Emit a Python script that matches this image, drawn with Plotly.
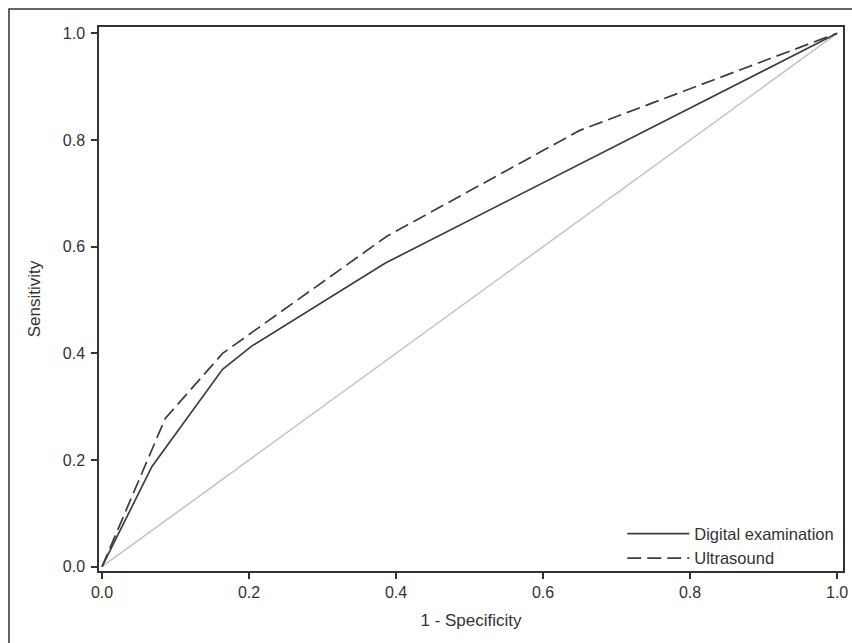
import plotly.graph_objects as go

# ROC data
fpr_digital = [0.0, 0.068, 0.164, 0.204, 0.385, 1.0]
sens_digital = [0.0, 0.188, 0.370, 0.414, 0.569, 1.0]

fpr_ultra = [0.0, 0.086, 0.164, 0.388, 0.650, 1.0]
sens_ultra = [0.0, 0.278, 0.400, 0.620, 0.818, 1.0]

ref_x = [0.0, 1.0]
ref_y = [0.0, 1.0]

tick_vals = [0.0, 0.2, 0.4, 0.6, 0.8, 1.0]
tick_text = ["0.0", "0.2", "0.4", "0.6", "0.8", "1.0"]

FONT = "Liberation Sans, Arial, sans-serif"
LINE = "#3d3d3d"

fig = go.Figure()
fig.add_trace(go.Scatter(x=ref_x, y=ref_y, mode="lines", showlegend=False,
                         line=dict(color="#c4c4c4", width=1.5), hoverinfo="skip"))
fig.add_trace(go.Scatter(x=fpr_digital, y=sens_digital, mode="lines",
                         name="Digital examination",
                         line=dict(color=LINE, width=1.7)))
fig.add_trace(go.Scatter(x=fpr_ultra, y=sens_ultra, mode="lines",
                         name="Ultrasound",
                         line=dict(color=LINE, width=1.7, dash="14px,6px")))

axis_common = dict(
    showgrid=False, zeroline=False, showline=True, mirror=True,
    linecolor="#333333", linewidth=1.5,
    ticks="outside", ticklen=6, tickwidth=1.5, tickcolor="#333333",
    tickvals=tick_vals, ticktext=tick_text,
    tickfont=dict(family=FONT, size=16, color="#333333"),
    ticklabeloverflow="allow", automargin=False,
)

fig.update_layout(
    width=852, height=643,
    margin=dict(l=99, r=9, t=27, b=72),
    paper_bgcolor="white", plot_bgcolor="white",
    font=dict(family=FONT, color="#333333"),
    xaxis=dict(range=[-0.0041, 1.008], title=dict(text="1 - Specificity",
               font=dict(family=FONT, size=17, color="#333333"), standoff=14),
               **axis_common),
    yaxis=dict(range=[-0.008, 1.0118], title=dict(text="Sensitivity",
               font=dict(family=FONT, size=17, color="#333333"), standoff=18),
               ticklabelstandoff=3, **axis_common),
    legend=dict(x=0.995, xanchor="right", y=-0.008, yanchor="bottom",
                bgcolor="rgba(0,0,0,0)", font=dict(family=FONT, size=16.5, color="#333333"),
                itemwidth=62, tracegroupgap=0),
    shapes=[dict(type="rect", xref="paper", yref="paper",
                 x0=-0.121, x1=1.1, y0=-0.3, y1=1.0331,
                 line=dict(color="#333333", width=1.5), layer="below")],
)

fig.write_html("out.html", config={"displayModeBar": False},
               post_script="document.body.style.margin='0';")
